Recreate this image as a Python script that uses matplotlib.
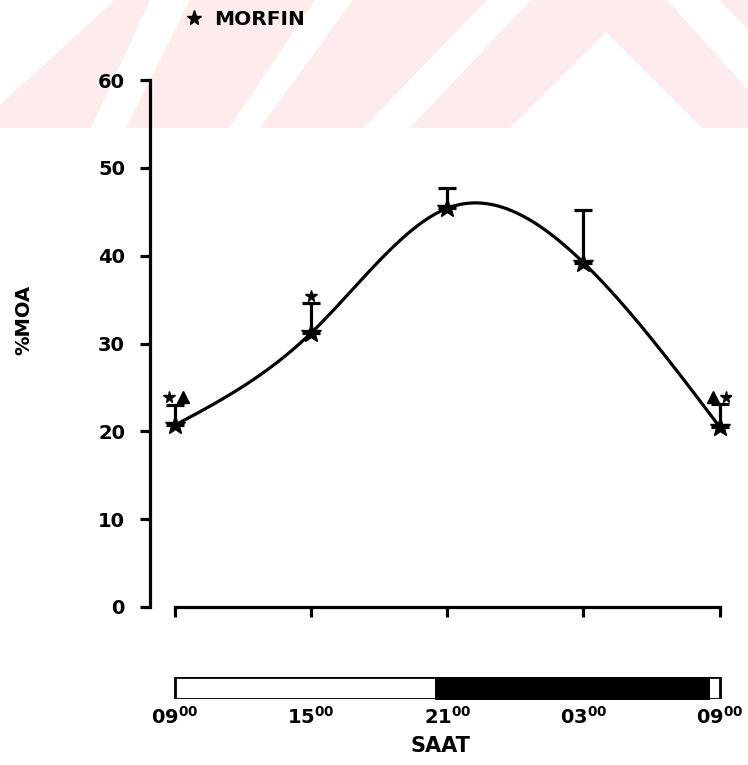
import numpy as np
import matplotlib
matplotlib.use("Agg")
import matplotlib.pyplot as plt
from matplotlib.patches import Polygon, Rectangle

plt.rcParams['font.family'] = ['DejaVu Sans']
plt.rcParams['font.weight'] = 'bold'
plt.rcParams['mathtext.fontset'] = 'dejavusans'

# sampling times, hours after 09:00
hours = [0, 6, 12, 18, 24]
hour_labels = [r'$\mathbf{09^{00}}$', r'$\mathbf{15^{00}}$', r'$\mathbf{21^{00}}$',
               r'$\mathbf{03^{00}}$', r'$\mathbf{09^{00}}$']
moa_mean = [20.7, 31.2, 45.4, 39.2, 20.5]
moa_sem = [2.3, 3.4, 2.3, 6.0, 2.6]

# significance marks above the error bars
sig_star_t = [-0.25, 6.0, 24.3]
sig_star_y = [23.9, 35.4, 23.9]
sig_tri_t = [0.35, 23.7]
sig_tri_y = [23.9, 23.9]

# light / dark schedule (start, duration) in hours after 09:00
light_spans = [(0, 11.5), (23.5, 0.5)]
dark_spans = [(11.5, 12.0)]

series_label = 'MORFIN'
y_label = '%MOA'
x_label = 'SAAT'

PINK = '#fdebee'
LW = 2.3


def natural_spline(x, y, xs):
    x = np.asarray(x, float)
    y = np.asarray(y, float)
    n = len(x)
    h = np.diff(x)
    A = np.zeros((n, n))
    rhs = np.zeros(n)
    A[0, 0] = A[-1, -1] = 1
    for i in range(1, n - 1):
        A[i, i - 1] = h[i - 1]
        A[i, i] = 2 * (h[i - 1] + h[i])
        A[i, i + 1] = h[i]
        rhs[i] = 3 * ((y[i + 1] - y[i]) / h[i] - (y[i] - y[i - 1]) / h[i - 1])
    c = np.linalg.solve(A, rhs)
    b = (y[1:] - y[:-1]) / h - h * (2 * c[:-1] + c[1:]) / 3
    d = (c[1:] - c[:-1]) / (3 * h)
    idx = np.clip(np.searchsorted(x, xs) - 1, 0, n - 2)
    dx = xs - x[idx]
    return y[idx] + b[idx] * dx + c[idx] * dx ** 2 + d[idx] * dx ** 3


W, H = 748, 765
fig = plt.figure(figsize=(W / 100, H / 100), dpi=100)

# background layer in pixel units (y downwards)
bg = fig.add_axes([0, 0, 1, 1], zorder=-1)
bg.set_xlim(0, W)
bg.set_ylim(H, 0)
bg.axis('off')
bg.add_patch(Rectangle((0, 0), W, 128, color=PINK, lw=0))
gaps = [
    [(0, 0), (115, 0), (0, 105)],
    [(150, 0), (190, 0), (126, 128), (91, 128)],
    [(315, 0), (353, 0), (260, 128), (229, 128)],
    [(487, 0), (531, 0), (410, 128), (363, 128)],
    [(510, 128), (606, 32), (702, 128)],
    [(667, 0), (719, 0), (748, 29), (748, 90)],
]
for g in gaps:
    bg.add_patch(Polygon(g, closed=True, color='white', lw=0))

# legend entry
bg.plot([194], [18], marker='*', ms=11, color='black', ls='none')
bg.text(214, 19, series_label, fontsize=14.5, fontweight='heavy', va='center', ha='left')

# main axes
ax = fig.add_axes([150 / W, 1 - 607 / H, 581 / W, 527 / H])
ax.set_xlim(-1.1, 24.5)
ax.set_ylim(0, 60)
ax.patch.set_alpha(0)

ts = np.linspace(hours[0], hours[-1], 400)
ax.plot(ts, natural_spline(hours, moa_mean, ts), color='black', lw=LW, zorder=2)
ax.errorbar(hours, moa_mean, yerr=[np.zeros(len(moa_sem)), moa_sem], fmt='none',
            ecolor='black', elinewidth=LW, capsize=6.5, capthick=LW, zorder=2)
ax.plot(hours, moa_mean, ls='none', marker='*', ms=15, color='black', zorder=3)
ax.plot(sig_star_t, sig_star_y, ls='none', marker='*', ms=8.5, color='black')
ax.plot(sig_tri_t, sig_tri_y, ls='none', marker='^', ms=8.5, color='black')

for side in ['top', 'right']:
    ax.spines[side].set_visible(False)
ax.spines['left'].set_linewidth(LW)
ax.spines['bottom'].set_linewidth(LW)
ax.spines['bottom'].set_bounds(hours[0], hours[-1])
ax.set_yticks(range(0, 61, 10))
ax.set_xticks(hours)
ax.set_xticklabels([])
ax.tick_params(axis='y', direction='out', length=7, width=LW, pad=11, labelsize=14)
ax.tick_params(axis='x', direction='out', length=7, width=LW)
for t in ax.get_yticklabels():
    t.set_fontweight('heavy')

fig.text(24 / W, 1 - 320 / H, y_label, rotation=90, fontsize=14, fontweight='heavy',
         ha='center', va='center')

# light/dark bar
bar = fig.add_axes([150 / W, 1 - 699 / H, 581 / W, 22 / H])
bar.set_xlim(-1.1, 24.5)
bar.set_ylim(0, 1)
bar.patch.set_alpha(0)
bar.broken_barh(light_spans, (0, 1), facecolors='white', edgecolors='black', lw=2)
bar.broken_barh(dark_spans, (0, 1), facecolors='black', edgecolors='black', lw=2)
for s in bar.spines.values():
    s.set_visible(False)
bar.set_yticks([])
bar.set_xticks(hours)
bar.set_xticklabels(hour_labels, fontsize=14)
bar.tick_params(axis='x', length=0, pad=5)
bar.set_xlabel(x_label, fontsize=15, fontweight='heavy', labelpad=6)

fig.savefig('out.png', dpi=100)
